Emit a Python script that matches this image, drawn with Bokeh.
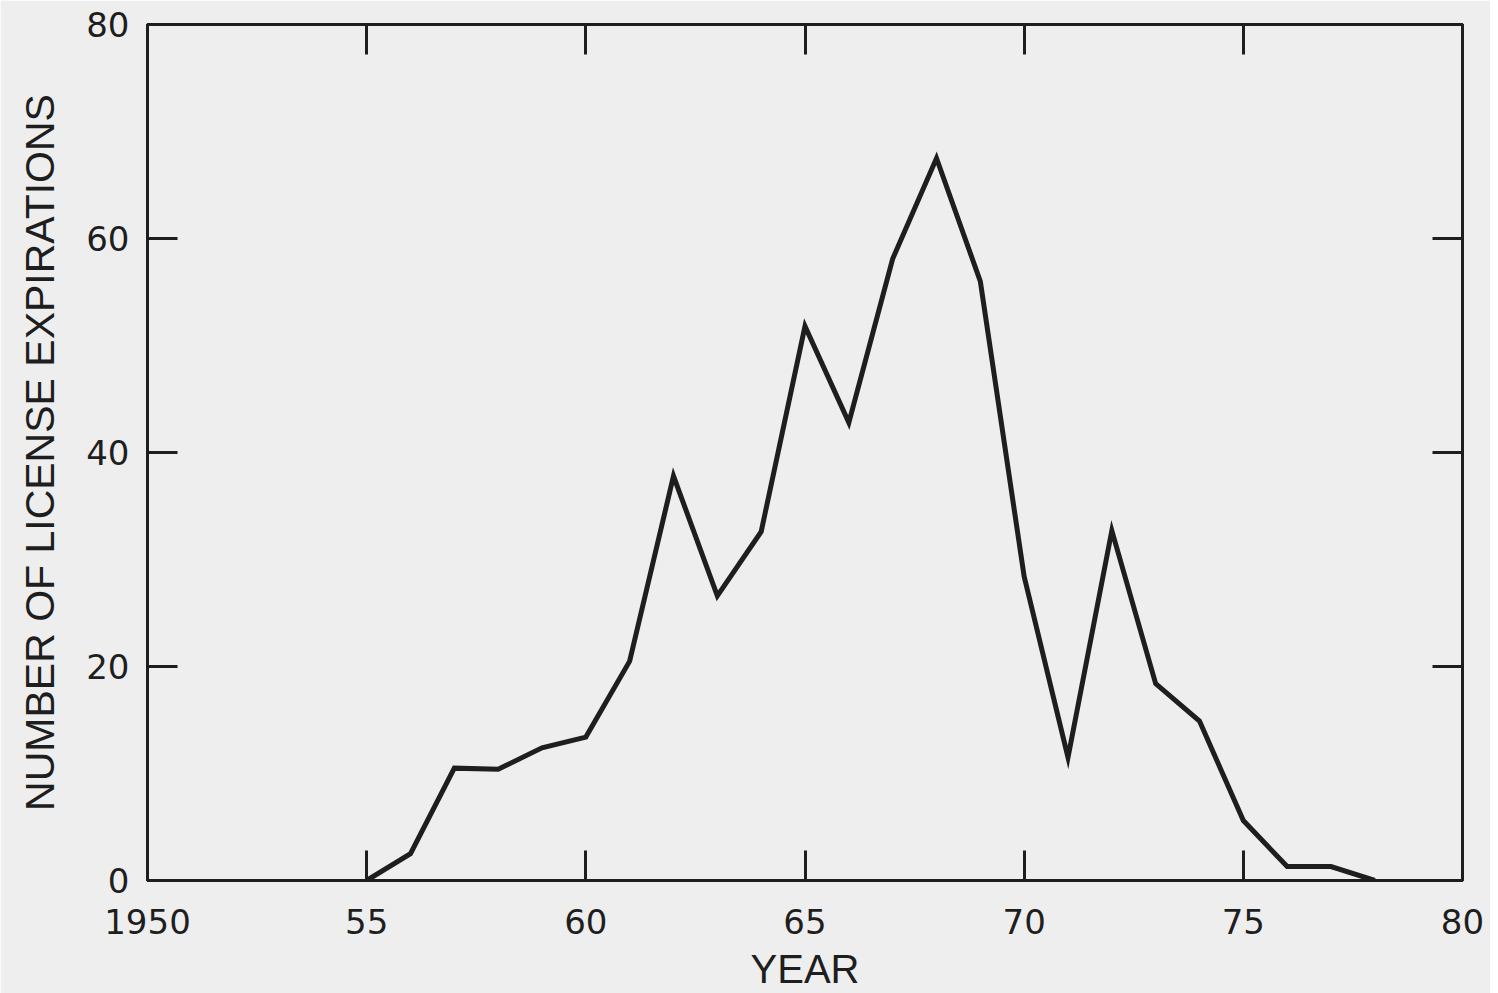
from bokeh.plotting import figure
from bokeh.models import Range1d, LinearAxis, FixedTicker
from bokeh.embed import file_html
from bokeh.resources import INLINE

# Data
years = [1955, 1956, 1957, 1958, 1959, 1960, 1961, 1962, 1963, 1964, 1965, 1966,
         1967, 1968, 1969, 1970, 1971, 1972, 1973, 1974, 1975, 1976, 1977, 1978]
expirations = [0, 2.5, 10.5, 10.4, 12.4, 13.4, 20.5, 37.8, 26.6, 32.6, 51.8, 42.8,
               58.1, 67.5, 56.0, 28.4, 11.5, 32.7, 18.4, 14.9, 5.6, 1.3, 1.3, 0]

x_ticks = [1950, 1955, 1960, 1965, 1970, 1975, 1980]
x_tick_labels = ["1950", "55", "60", "65", "70", "75", "80"]
y_ticks = [0, 20, 40, 60, 80]

BG = "#eeeeee"
INK = "#1e1e1e"
TICK_FONT = "DejaVu Sans"
LABEL_FONT = "Liberation Sans"

p = figure(frame_width=1315, frame_height=856, output_backend="svg", toolbar_location=None,
           x_range=Range1d(1950, 1980), y_range=Range1d(0, 80),
           min_border_left=147, min_border_right=28, min_border_top=24, min_border_bottom=100,
           background_fill_color=BG, border_fill_color=BG)
p.grid.visible = False
p.outline_line_color = INK
p.outline_line_width = 3

p.line(years, expirations, line_color=INK, line_width=5, line_join="miter")


def style_axis(ax, show_labels):
    ax.axis_line_color = INK
    ax.axis_line_width = 3
    ax.major_tick_line_color = INK
    ax.major_tick_line_width = 3
    ax.major_tick_in = 30
    ax.major_tick_out = 0
    ax.minor_tick_line_color = None
    ax.major_label_text_font = TICK_FONT
    ax.major_label_text_font_size = "34px"
    ax.major_label_text_color = INK if show_labels else None
    ax.axis_label_text_font = LABEL_FONT
    ax.axis_label_text_font_size = "40px"
    ax.axis_label_text_font_style = "normal"
    ax.axis_label_text_color = INK


xa = p.xaxis[0]
xa.ticker = FixedTicker(ticks=x_ticks)
xa.major_label_overrides = {t: l for t, l in zip(x_ticks, x_tick_labels)}
xa.axis_label = "YEAR"
style_axis(xa, True)
xa.major_label_standoff = 28
xa.axis_label_standoff = 10

ya = p.yaxis[0]
ya.ticker = FixedTicker(ticks=y_ticks)
ya.axis_label = "NUMBER OF LICENSE EXPIRATIONS"
style_axis(ya, True)
ya.axis_label_text_font_size = "41px"
ya.major_label_standoff = 18
ya.axis_label_standoff = 20

top = LinearAxis(ticker=FixedTicker(ticks=x_ticks))
style_axis(top, False)
top.major_label_text_font_size = "0px"
p.add_layout(top, "above")

right = LinearAxis(ticker=FixedTicker(ticks=y_ticks))
style_axis(right, False)
right.major_label_text_font_size = "0px"
p.add_layout(right, "right")

open("out.html", "w").write(file_html(p, INLINE))
